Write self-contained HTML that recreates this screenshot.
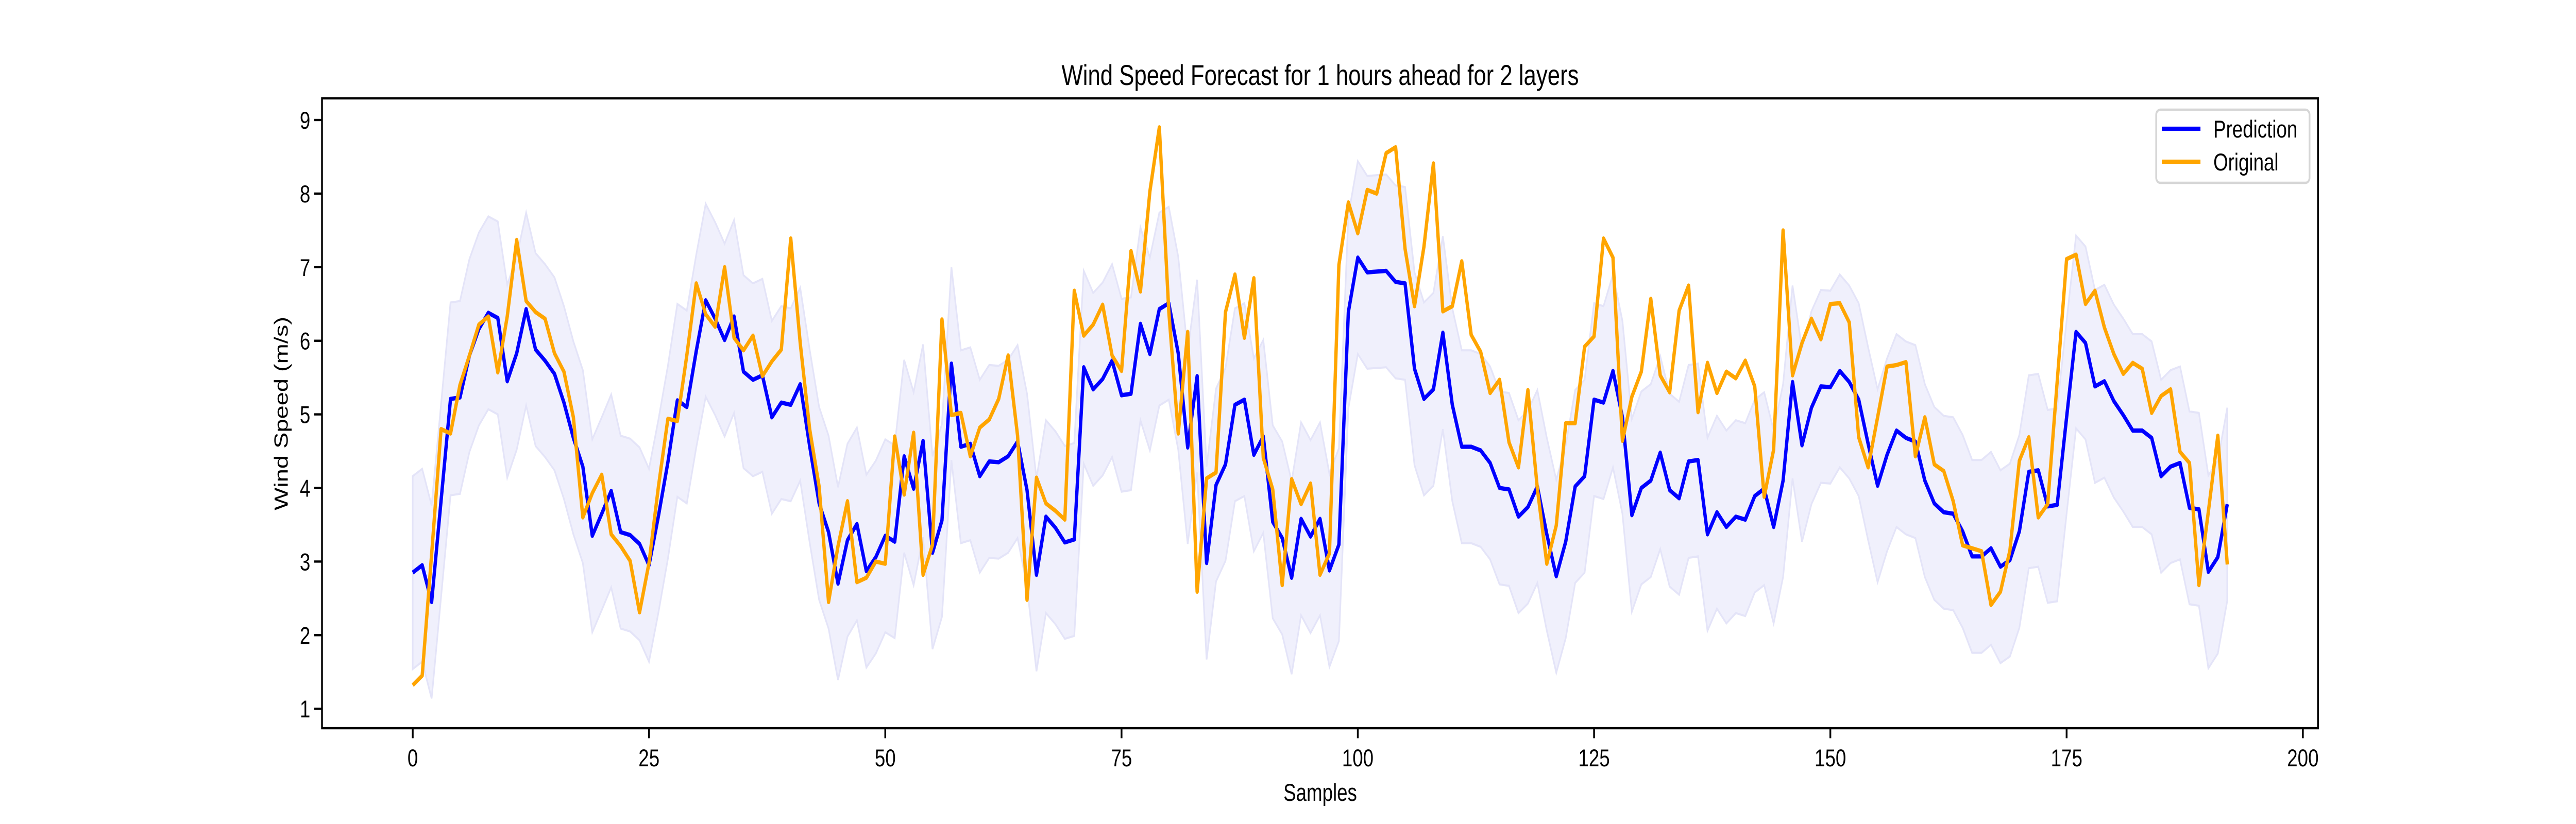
<!DOCTYPE html>
<html><head><meta charset="utf-8"><style>
html,body{margin:0;padding:0;background:#fff;width:100vw;height:100vh;overflow:hidden;}
svg{display:block;width:100vw;height:100vh;font-family:"Liberation Sans","DejaVu Sans",sans-serif;}
</style></head><body>
<svg id="chart" viewBox="0 0 6400 1600" preserveAspectRatio="none" xmlns="http://www.w3.org/2000/svg">
<rect width="6400" height="1600" fill="#fff"/>
<text x="3280" y="165" font-size="56" text-anchor="middle">Wind Speed Forecast for 1 hours ahead for 2 layers</text>
<text x="3280" y="1555" font-size="47" text-anchor="middle">Samples</text>
<text x="0" y="0" font-size="47" text-anchor="middle" transform="translate(715,803) rotate(-90)">Wind Speed (m/s)</text>
<g id="plot"></g>
<rect x="800" y="191" width="4959" height="1223" fill="none" stroke="#000" stroke-width="4.4"/>
<g>
<rect x="5357" y="213" width="381" height="142" rx="10" fill="#fff" fill-opacity="0.8" stroke="#d6d6d6" stroke-width="4.4"/>
<line x1="5371" y1="250" x2="5467" y2="250" stroke="#0000ff" stroke-width="8.3"/>
<text x="5499" y="267" font-size="47">Prediction</text>
<line x1="5371" y1="314" x2="5467" y2="314" stroke="#ffa500" stroke-width="8.3"/>
<text x="5499" y="331" font-size="47">Original</text>
</g>
</svg>
<script>
const prediction = [2.85,2.95,2.45,3.83,5.21,5.23,5.80,6.16,6.38,6.31,5.45,5.83,6.43,5.88,5.73,5.55,5.16,4.68,4.29,3.35,3.65,3.96,3.40,3.36,3.24,2.95,3.62,4.35,5.19,5.10,5.86,6.55,6.30,6.01,6.33,5.58,5.47,5.53,4.96,5.16,5.13,5.41,4.57,3.79,3.40,2.70,3.29,3.51,2.87,3.06,3.35,3.27,4.43,3.99,4.64,3.12,3.56,5.69,4.56,4.60,4.16,4.36,4.35,4.43,4.63,3.97,2.82,3.61,3.46,3.26,3.30,5.64,5.34,5.48,5.73,5.26,5.28,6.23,5.82,6.43,6.51,5.83,4.55,5.52,2.98,4.04,4.32,5.13,5.20,4.45,4.70,3.54,3.32,2.78,3.58,3.34,3.58,2.88,3.23,6.39,7.13,6.93,6.94,6.95,6.80,6.78,5.62,5.21,5.34,6.11,5.13,4.56,4.56,4.51,4.34,4.00,3.98,3.61,3.74,4.02,3.37,2.80,3.27,4.02,4.16,5.20,5.16,5.59,4.96,3.63,4.00,4.10,4.48,3.97,3.86,4.36,4.38,3.37,3.67,3.47,3.61,3.57,3.89,3.99,3.47,4.10,5.44,4.58,5.09,5.38,5.37,5.59,5.44,5.20,4.60,4.03,4.45,4.78,4.68,4.63,4.10,3.79,3.67,3.65,3.41,3.07,3.07,3.18,2.93,3.02,3.41,4.22,4.24,3.75,3.77,4.96,6.12,5.97,5.38,5.45,5.18,4.99,4.78,4.78,4.68,4.16,4.29,4.34,3.73,3.71,2.86,3.06,3.78];
const original = [1.32,1.45,3.1,4.80,4.74,5.40,5.80,6.22,6.33,5.57,6.33,7.37,6.54,6.39,6.30,5.83,5.58,4.96,3.60,3.93,4.18,3.37,3.21,3.01,2.31,2.98,4.02,4.94,4.91,5.80,6.78,6.36,6.19,7.00,6.04,5.87,6.07,5.52,5.72,5.88,7.39,5.97,4.80,4.02,2.45,3.21,3.82,2.72,2.78,3.00,2.97,4.70,3.91,4.75,2.82,3.23,6.29,4.99,5.02,4.43,4.82,4.93,5.21,5.80,4.71,2.48,4.14,3.79,3.69,3.57,6.68,6.07,6.22,6.49,5.80,5.59,7.22,6.67,8.03,8.90,6.4,4.74,6.12,2.59,4.13,4.21,6.39,6.90,6.04,6.85,4.41,3.98,2.68,4.12,3.78,4.06,2.82,3.11,7.03,7.88,7.46,8.05,8.00,8.55,8.63,7.25,6.47,7.28,8.41,6.40,6.47,7.08,6.08,5.85,5.29,5.47,4.62,4.28,5.33,3.99,2.97,3.49,4.88,4.88,5.92,6.06,7.39,7.13,4.64,5.24,5.58,6.57,5.53,5.30,6.41,6.75,5.03,5.70,5.29,5.58,5.49,5.73,5.38,3.88,4.52,7.50,5.53,5.97,6.30,6.02,6.50,6.51,6.25,4.69,4.28,4.96,5.65,5.67,5.71,4.43,4.96,4.32,4.23,3.82,3.22,3.18,3.14,2.41,2.59,3.15,4.37,4.69,3.60,3.78,5.44,7.11,7.17,6.50,6.68,6.18,5.82,5.55,5.70,5.62,5.02,5.25,5.34,4.49,4.34,2.68,3.68,4.71,2.96];
const bandHalfWidth = 1.31;
const xTickValues = [0,25,50,75,100,125,150,175,200];
const yTickValues = [1,2,3,4,5,6,7,8,9];

const NS = "http://www.w3.org/2000/svg";
const X0 = 800, X1 = 5759, Y0 = 191, Y1 = 1414;
const xMin = -9.6, xMax = 201.6;
function xScale(v){ return X0 + (v - xMin) / (xMax - xMin) * (X1 - X0); }
function yScale(v){ return 233 + (9 - v) * 142.9; }
const g = document.getElementById('plot');
function mk(tag, attrs){ const e = document.createElementNS(NS, tag); for (const k in attrs) e.setAttribute(k, attrs[k]); return e; }

let upper = prediction.map((v,i)=>xScale(i)+','+yScale(v+bandHalfWidth));
let lower = prediction.map((v,i)=>xScale(i)+','+yScale(v-bandHalfWidth)).reverse();
const band = mk('polygon', {points: upper.concat(lower).join(' '), fill:'#f0f0fc', stroke:'#e4e4f8', 'stroke-width':'4'});


g.appendChild(band);

const pl = mk('polyline', {points: prediction.map((v,i)=>xScale(i)+','+yScale(v)).join(' '), fill:'none', stroke:'#0000ff', 'stroke-width':'8.3', 'stroke-linejoin':'round'});


g.appendChild(pl);

const ol = mk('polyline', {points: original.map((v,i)=>xScale(i)+','+yScale(v)).join(' '), fill:'none', stroke:'#ffa500', 'stroke-width':'8.3', 'stroke-linejoin':'round'});


g.appendChild(ol);

xTickValues.forEach(t=>{
  const x = xScale(t);
  const tk = mk('line', {x1:x, y1:Y1, x2:x, y2:Y1+19.4, stroke:'#000', 'stroke-width':'4.4'});
  
  
  g.appendChild(tk);
  const lb = mk('text', {x:x, y:1488, 'font-size':'47', 'text-anchor':'middle'});
  lb.textContent = t;
  
  
  g.appendChild(lb);
});
yTickValues.forEach(t=>{
  const y = yScale(t);
  const tk = mk('line', {x1:X0-19.4, y1:y, x2:X0, y2:y, stroke:'#000', 'stroke-width':'4.4'});
  
  
  g.appendChild(tk);
  const lb = mk('text', {x:771, y:y+17, 'font-size':'47', 'text-anchor':'end'});
  lb.textContent = t;
  
  
  g.appendChild(lb);
});
</script>
</body></html>
